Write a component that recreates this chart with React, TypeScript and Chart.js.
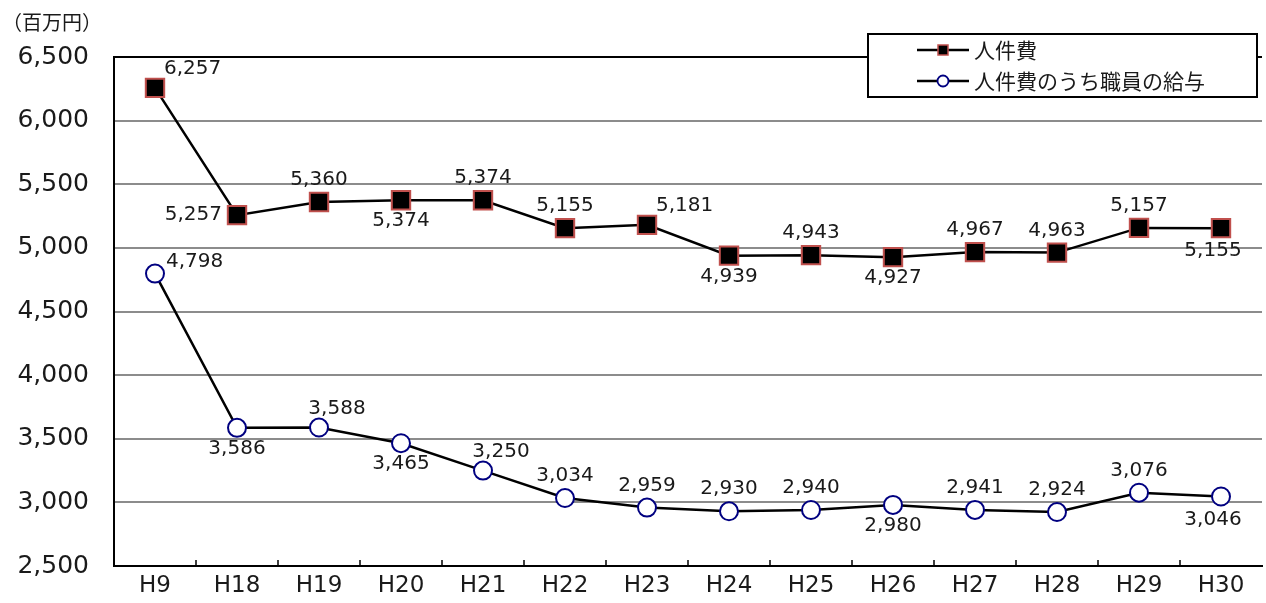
import { useEffect, useRef } from 'react';
import { Chart, registerables } from 'chart.js';

Chart.register(...registerables);

const categories = ['H9', 'H18', 'H19', 'H20', 'H21', 'H22', 'H23', 'H24', 'H25', 'H26', 'H27', 'H28', 'H29', 'H30'];
const personnelCost = [6257, 5257, 5360, 5374, 5374, 5155, 5181, 4939, 4943, 4927, 4967, 4963, 5157, 5155];
const staffSalary = [4798, 3586, 3588, 3465, 3250, 3034, 2959, 2930, 2940, 2980, 2941, 2924, 3076, 3046];
const seriesNames = ['人件費', '人件費のうち職員の給与'];
const unitLabel = '（百万円）';
const yMin = 2500;
const yMax = 6500;
const yStep = 500;

// label placement codes (style): a=above, b=below, bl=below-left, l=left, ar=above-right, as=above shifted, r=right
const personnelLabelAnchor = ['ar', 'l', 'a', 'b', 'a', 'a', 'ar', 'b', 'a', 'b', 'a', 'a', 'a', 'bl'];
const salaryLabelAnchor = ['r', 'b', 'as', 'b', 'as', 'a', 'a', 'a', 'a', 'b', 'a', 'a', 'a', 'bl'];

const NUM_FONT = '"DejaVu Sans", "Noto Sans CJK JP", sans-serif';
const JP_FONT = '"Noto Sans CJK JP", "DejaVu Sans", sans-serif';

const fmt = (v: number) => v.toLocaleString('en-US');

const anchorOffsets: Record<string, [number, number, CanvasTextAlign]> = {
  a: [0, -22, 'center'],
  b: [0, 21, 'center'],
  bl: [-8, 23, 'center'],
  l: [-15, 0, 'right'],
  ar: [9, -19, 'left'],
  as: [18, -19, 'center'],
  r: [11, -12, 'left'],
};

const decorPlugin = {
  id: 'decor',
  afterDatasetsDraw(chart: any) {
    const ctx = chart.ctx as CanvasRenderingContext2D;
    const anchors = [personnelLabelAnchor, salaryLabelAnchor];
    ctx.save();
    ctx.font = `20px ${NUM_FONT}`;
    ctx.fillStyle = '#1a1a1a';
    ctx.textBaseline = 'middle';
    chart.data.datasets.forEach((ds: any, di: number) => {
      const meta = chart.getDatasetMeta(di);
      meta.data.forEach((pt: any, i: number) => {
        const [dx, dy, align] = anchorOffsets[anchors[di][i]] || anchorOffsets.a;
        ctx.textAlign = align;
        ctx.fillText(fmt(ds.data[i]), pt.x + dx, pt.y + dy);
      });
    });
    ctx.restore();
  },
  afterDraw(chart: any) {
    const ctx = chart.ctx as CanvasRenderingContext2D;
    const { left, top, right, bottom } = chart.chartArea;
    const xs = chart.scales.x;
    ctx.save();
    // top frame line
    ctx.strokeStyle = '#000';
    ctx.lineWidth = 2;
    ctx.beginPath();
    ctx.moveTo(left - 1, top);
    ctx.lineTo(right, top);
    ctx.stroke();
    // inward tick marks between categories on x axis
    ctx.lineWidth = 1.5;
    ctx.beginPath();
    for (let i = 1; i < categories.length; i++) {
      const x = (xs.getPixelForValue(i - 1) + xs.getPixelForValue(i)) / 2;
      ctx.moveTo(x, bottom);
      ctx.lineTo(x, bottom - 6);
    }
    ctx.stroke();

    // unit label
    ctx.font = `20px ${JP_FONT}`;
    ctx.fillStyle = '#1a1a1a';
    ctx.textAlign = 'left';
    ctx.textBaseline = 'middle';
    ctx.fillText(unitLabel, 2, 22);

    // legend box
    const lx = 868, ly = 34, lw = 389, lh = 63;
    ctx.fillStyle = '#fff';
    ctx.fillRect(lx, ly, lw, lh);
    ctx.strokeStyle = '#000';
    ctx.lineWidth = 2;
    ctx.strokeRect(lx, ly, lw, lh);
    const rows = [ly + 16, ly + 47];
    rows.forEach((ry, i) => {
      ctx.strokeStyle = '#000';
      ctx.lineWidth = 2.5;
      ctx.beginPath();
      ctx.moveTo(917, ry);
      ctx.lineTo(969, ry);
      ctx.stroke();
      if (i === 0) {
        ctx.fillStyle = '#000';
        ctx.fillRect(938, ry - 5, 10, 10);
        ctx.strokeStyle = '#c0504d';
        ctx.lineWidth = 1.5;
        ctx.strokeRect(938, ry - 5, 10, 10);
      } else {
        ctx.fillStyle = '#fff';
        ctx.beginPath();
        ctx.arc(943, ry, 5.5, 0, Math.PI * 2);
        ctx.fill();
        ctx.strokeStyle = '#000080';
        ctx.lineWidth = 1.8;
        ctx.stroke();
      }
      ctx.fillStyle = '#1a1a1a';
      ctx.font = `21px ${JP_FONT}`;
      ctx.textAlign = 'left';
      ctx.textBaseline = 'middle';
      ctx.fillText(seriesNames[i], 974, ry);
    });
    ctx.restore();
  },
};

export default function App() {
  const ref = useRef<HTMLCanvasElement | null>(null);

  useEffect(() => {
    if (!ref.current) return;
    const chart = new Chart(ref.current, {
      type: 'line',
      data: {
        labels: categories,
        datasets: [
          {
            label: seriesNames[0],
            data: personnelCost,
            borderColor: '#000',
            borderWidth: 2.5,
            pointStyle: 'rect',
            pointRadius: 13,
            pointBackgroundColor: '#000',
            pointBorderColor: '#c0504d',
            pointBorderWidth: 2,
            tension: 0,
          },
          {
            label: seriesNames[1],
            data: staffSalary,
            borderColor: '#000',
            borderWidth: 2.5,
            pointStyle: 'circle',
            pointRadius: 9,
            pointBackgroundColor: '#fff',
            pointBorderColor: '#000080',
            pointBorderWidth: 2,
            tension: 0,
          },
        ],
      },
      options: {
        animation: false,
        responsive: true,
        maintainAspectRatio: false,
        layout: { autoPadding: false, padding: { top: 57, right: 4, left: 0, bottom: 0 } },
        plugins: {
          legend: { display: false },
          tooltip: { enabled: false },
          title: { display: false },
        },
        scales: {
          x: {
            type: 'category',
            offset: true,
            grid: { display: false, drawTicks: false },
            border: { display: true, color: '#000', width: 2 },
            ticks: {
              padding: 6,
              color: '#1a1a1a',
              font: { family: NUM_FONT, size: 23 },
              maxRotation: 0,
              autoSkip: false,
            },
            afterFit(scale: any) {
              scale.height = 37;
              scale.paddingLeft = 0;
              scale.paddingRight = 0;
            },
          },
          y: {
            min: yMin,
            max: yMax,
            ticks: {
              stepSize: yStep,
              padding: 25,
              color: '#1a1a1a',
              font: { family: NUM_FONT, size: 25 },
              callback: (v: any) => fmt(Number(v)),
            },
            grid: { color: '#8c8c8c', lineWidth: 2, drawTicks: false },
            border: { display: true, color: '#000', width: 2 },
            afterFit(scale: any) {
              scale.width = 114;
              scale.paddingTop = 0;
              scale.paddingBottom = 0;
            },
          },
        },
      },
      plugins: [decorPlugin],
    });
    return () => chart.destroy();
  }, []);

  return (
    <div style={{ position: 'absolute', left: 0, top: 0, width: 1266, height: 603, background: '#fff' }}>
      <canvas ref={ref} />
    </div>
  );
}
